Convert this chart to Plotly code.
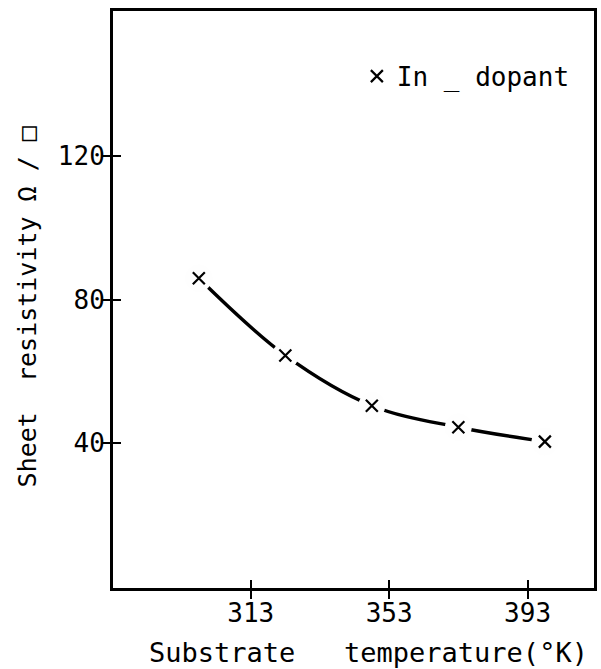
import plotly.graph_objects as go

# Sheet resistivity vs substrate temperature, In-doped films
temperature_k = [298, 323, 348, 373, 398]
sheet_resistivity = [86, 64.5, 50.5, 44.5, 40.5]

x_ticks = [313, 353, 393]
y_ticks = [40, 80, 120]
y_tick_labels = ["40", "80", "120"]

series_name = "In _ dopant"
x_title = "Substrate\u00a0\u00a0\u00a0temperature(°K)"
y_title = "Sheet\u00a0\u00a0resistivity\u00a0Ω\u00a0/\u00a0□"

FONT = "DejaVu Sans Mono"
X_RANGE = [273.2, 412.2]
Y_RANGE = [-0.3, 160.5]
PAPER = "rgb(254,254,254)"

fig = go.Figure()

# smooth fitted curve
fig.add_trace(go.Scatter(
    x=temperature_k, y=sheet_resistivity, mode="lines",
    line=dict(color="black", width=3.4, shape="spline", smoothing=1.0),
    showlegend=False, hoverinfo="skip",
))
# background-coloured discs that open a gap in the curve at each point
fig.add_trace(go.Scatter(
    x=temperature_k, y=sheet_resistivity, mode="markers",
    marker=dict(symbol="circle", size=26, color=PAPER,
                line=dict(width=1, color=PAPER)),
    showlegend=False, hoverinfo="skip",
))
# measured points
fig.add_trace(go.Scatter(
    x=temperature_k, y=sheet_resistivity, mode="markers", name=series_name,
    marker=dict(symbol="x-thin-open", size=12, color="black",
                line=dict(width=2.2, color="black")),
))

# tick marks cross the frame: major half inside, minor half outside
tick_style = dict(tickcolor="black", tickwidth=2.4, ticklen=8)

fig.update_layout(
    width=601, height=669,
    margin=dict(l=113, r=4, t=11, b=81),
    paper_bgcolor="white", plot_bgcolor="white",
    font=dict(family=FONT, size=26, color="black"),
    xaxis=dict(range=X_RANGE, tickvals=x_ticks, ticks="inside",
               showline=True, linecolor="black", linewidth=3, mirror=True,
               showgrid=False, zeroline=False,
               minor=dict(tickvals=x_ticks, ticks="outside", showgrid=False,
                          **tick_style),
               **tick_style),
    yaxis=dict(range=Y_RANGE, tickvals=y_ticks, ticktext=y_tick_labels,
               ticksuffix="\u00a0",
               ticks="inside", showline=True, linecolor="black", linewidth=3,
               mirror=True, showgrid=False, zeroline=False,
               minor=dict(tickvals=y_ticks, ticks="outside", showgrid=False,
                          **tick_style),
               **tick_style),
    legend=dict(x=0.507, y=0.887, xanchor="left", yanchor="middle",
                bgcolor="rgba(0,0,0,0)", borderwidth=0,
                font=dict(family=FONT, size=26, color="black")),
    annotations=[
        dict(text=x_title, xref="paper", yref="paper", x=0.531, y=-0.111,
             xanchor="center", yanchor="middle", showarrow=False,
             font=dict(family=FONT, size=27, color="black")),
        dict(text=y_title, xref="paper", yref="paper", x=-0.178, y=0.487,
             xanchor="center", yanchor="middle", textangle=-90,
             showarrow=False, font=dict(family=FONT, size=25, color="black")),
    ],
)

fig.write_html("out.html")
